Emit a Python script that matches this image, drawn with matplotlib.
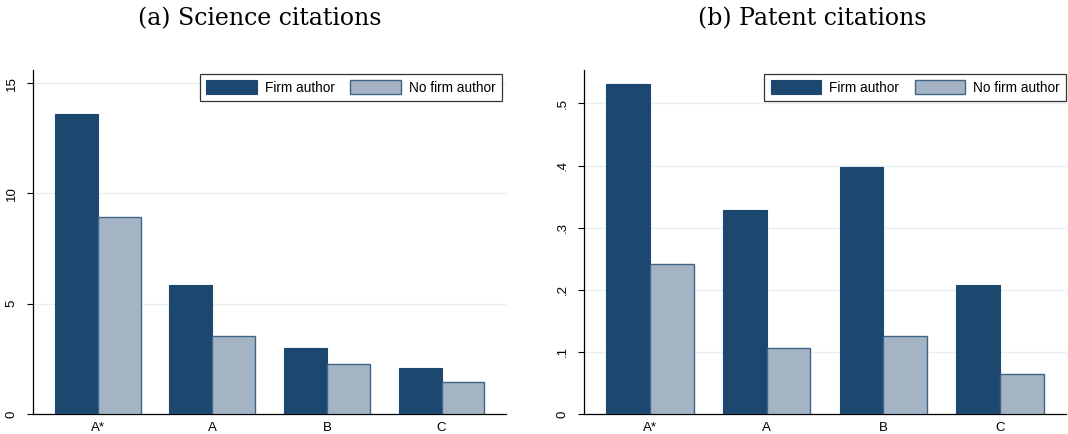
import numpy as np
import matplotlib.pyplot as plt

categories = ['A*', 'A', 'B', 'C']
science_firm = [13.6, 5.85, 2.99, 2.10]
science_nofirm = [8.92, 3.54, 2.28, 1.45]
patent_firm = [0.531, 0.328, 0.397, 0.208]
patent_nofirm = [0.241, 0.107, 0.125, 0.065]

dark = '#1c476f'
light = '#a5b4c4'
light_edge = '#3e6488'
grid_col = '#e8f0f2'

plt.rcParams['font.family'] = ['Liberation Sans', 'DejaVu Sans']

fig = plt.figure(figsize=(10.68, 4.34), dpi=100)
ax1 = fig.add_axes([0.031, 0.046, 0.443, 0.793])
ax2 = fig.add_axes([0.547, 0.046, 0.451, 0.793])


def panel(ax, firm, nofirm, ymax, ticks, ticklabels, leg_x):
    x = np.arange(len(categories))
    w = 0.375
    ax.bar(x - w / 2, firm, w, color=dark, edgecolor=dark, linewidth=0.8,
           label='Firm author', zorder=3)
    ax.bar(x + w / 2, nofirm, w, color=light, edgecolor=light_edge, linewidth=1.0,
           label='No firm author', zorder=3)
    ax.set_xlim(-0.565, 3.565)
    ax.set_ylim(0, ymax)
    ax.set_xticks(x)
    ax.set_xticklabels(categories, fontsize=9.5)
    ax.set_yticks(ticks)
    ax.set_yticklabels(ticklabels, fontsize=9.5, rotation=90, va='center')
    ax.tick_params(axis='x', length=0, pad=6)
    ax.tick_params(axis='y', length=4, width=0.8, pad=7)
    ax.yaxis.grid(True, color=grid_col, linewidth=1.0, zorder=0)
    ax.spines['top'].set_visible(False)
    ax.spines['right'].set_visible(False)
    ax.spines['left'].set_linewidth(0.9)
    ax.spines['bottom'].set_linewidth(0.9)
    leg = ax.legend(loc='upper right', bbox_to_anchor=(leg_x, 0.987),
                    ncol=2, fontsize=9.8, frameon=True, fancybox=False,
                    handlelength=3.7, handleheight=1.15, columnspacing=1.15,
                    handletextpad=0.6, borderpad=0.45, borderaxespad=0)
    leg.get_frame().set_edgecolor('black')
    leg.get_frame().set_linewidth(0.9)


panel(ax1, science_firm, science_nofirm, 15.6, [0, 5, 10, 15],
      ['0', '5', '10', '15'], 0.99)
panel(ax2, patent_firm, patent_nofirm, 0.554, [0, 0.1, 0.2, 0.3, 0.4, 0.5],
      ['0', '.1', '.2', '.3', '.4', '.5'], 1.0)

fig.text(260 / 1068, 1 - 19 / 434, '(a) Science citations', ha='center', va='center',
         fontsize=17, family='DejaVu Serif')
fig.text(812 / 1068, 1 - 19 / 434, '(b) Patent citations', ha='center', va='center',
         fontsize=17, family='DejaVu Serif')

fig.savefig('out.png', dpi=100)
